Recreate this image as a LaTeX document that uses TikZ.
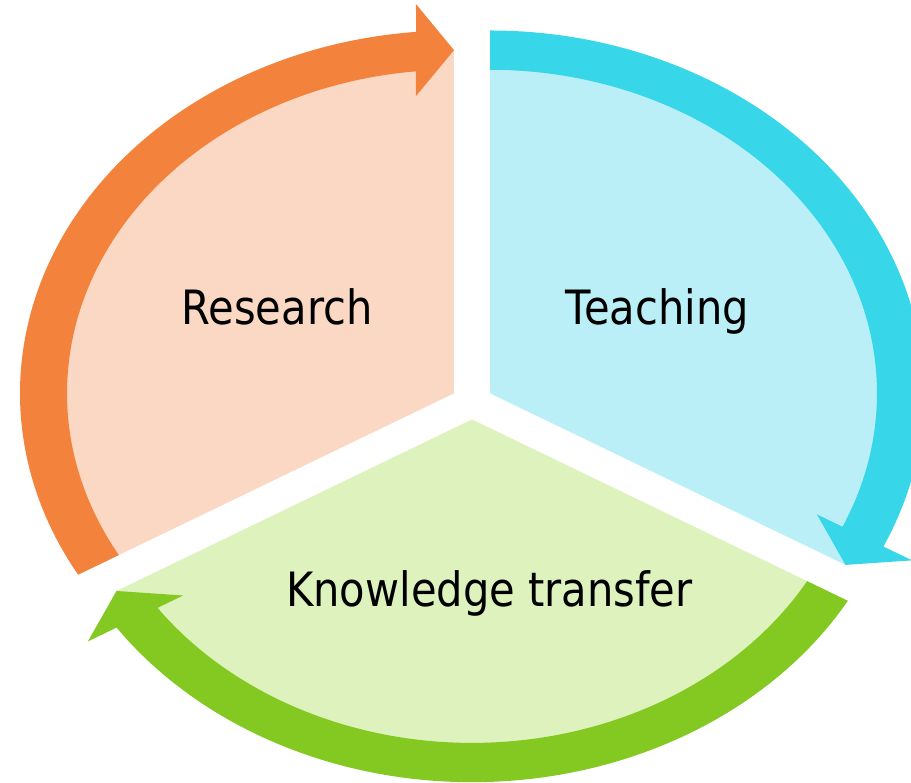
\documentclass[tikz,border=0pt]{standalone}
\usepackage{fontspec}
\newfontfamily\lblfont[FakeStretch=0.88]{DejaVu Sans}
\definecolor{orangeband}{RGB}{243,130,60}
\definecolor{orangefill}{RGB}{251,216,196}
\definecolor{cyanband}{RGB}{56,214,233}
\definecolor{cyanfill}{RGB}{186,239,248}
\definecolor{greenband}{RGB}{132,200,34}
\definecolor{greenfill}{RGB}{221,242,189}
\tikzset{
  lbl/.style={font=\lblfont\fontsize{47.3}{56}\selectfont, inner sep=0pt, anchor=base, text=black},
  segframe/.style={shift={(472,-402)}, yscale=0.836, rotate=#1, xshift=-18.01, yshift=10.4}
}
\newcommand\drawsegment[2]{%
  \fill[#1] (0,0) -- (90:410.5) arc[start angle=90, end angle=210, radius=410.5] -- cycle;
  \fill[#2] (210:434) arc[start angle=210, end angle=95.02, radius=434]
     -- (-38,465.5) -- (0,410.5) -- (-38,355.5)
     -- (95.64:387) arc[start angle=95.64, end angle=210, radius=387] -- cycle;
}
\begin{document}
\begin{tikzpicture}[x=1pt,y=1pt]
  \useasboundingbox (0,0) rectangle (911,-783);
  \clip (0,0) rectangle (911,-783);
  \begin{scope}[segframe=0]
    \drawsegment{orangefill}{orangeband}
  \end{scope}
  \begin{scope}[segframe=-120]
    \drawsegment{cyanfill}{cyanband}
  \end{scope}
  \begin{scope}[segframe=120]
    \drawsegment{greenfill}{greenband}
  \end{scope}
  \node[lbl] (research) at (277,-325) {Research};
  \node[lbl] (teaching) at (657.5,-325) {Teaching};
  \node[lbl] (transfer) at (489.5,-606.7) {Knowledge transfer};
\end{tikzpicture}
\end{document}
